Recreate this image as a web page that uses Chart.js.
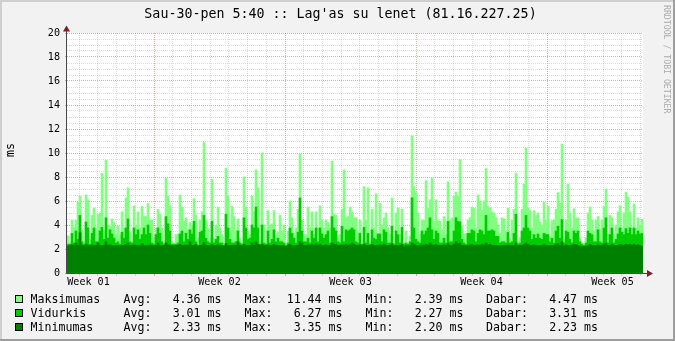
<!DOCTYPE html>
<html>
<head>
<meta charset="utf-8">
<title>Lag'as su lenet</title>
<script src="https://cdn.jsdelivr.net/npm/chart.js@4.4.1/dist/chart.umd.min.js"></script>
<style>
  html, body { margin: 0; padding: 0; background: #f2f2f2; }
  #wrap { width: 675px; height: 341px; }
</style>
</head>
<body>
<div id="wrap"><canvas id="lagChart" width="675" height="341"></canvas></div>
<script>
// ---- data (one value per 2 px column of the original graph) ----
const chartTitle = "Sau-30-pen 5:40 :: Lag'as su lenet (81.16.227.25)";
const unitLabel = 'ms';
const weekLabels = ['Week 01', 'Week 02', 'Week 03', 'Week 04', 'Week 05'];
const yTickValues = [0, 2, 4, 6, 8, 10, 12, 14, 16, 18, 20];

const seriesNames = ['Maksimumas', 'Vidurkis', 'Minimumas'];
const statAvg = [4.36, 3.01, 2.33];
const statMax = [11.44, 6.27, 3.35];
const statMin = [2.39, 2.27, 2.20];
const statNow = [4.47, 3.31, 2.23];

const maxValues = [
  3.1, 2.5, 4.4, 3.8, 4.4, 5.9, 6.4, 3.6, 2.6, 6.5, 6.1, 2.8, 4.8, 5.4, 3.7, 4.9, 5.0, 8.3, 3.6, 9.4, 4.0, 3.9, 4.5, 4.2,
  3.2, 3.9, 3.2, 5.1, 3.75, 6.25, 7.1, 3.4, 2.6, 5.6, 4.0, 5.1, 3.75, 5.55, 4.7, 4.7, 5.8, 4.4, 4.4, 2.9, 3.75, 5.3, 4.9, 3.75,
  2.5, 7.9, 6.4, 5.6, 2.6, 2.5, 3.2, 3.25, 6.5, 5.5, 4.3, 4.6, 3.6, 4.2, 4.0, 6.2, 4.8, 2.9, 4.4, 5.1, 10.9, 4.4, 3.75, 2.9,
  7.8, 2.9, 4.0, 5.5, 3.75, 3.2, 2.4, 8.75, 6.4, 3.75, 5.55, 4.7, 3.6, 4.5, 2.9, 2.5, 8.0, 5.5, 3.5, 3.2, 6.4, 5.1, 8.6, 7.1,
  2.6, 10.0, 4.0, 2.5, 5.2, 4.0, 4.1, 5.2, 3.25, 3.4, 4.8, 3.5, 4.0, 2.4, 3.5, 6.0, 4.6, 3.3, 3.75, 5.3, 9.9, 4.4, 3.2, 3.2,
  5.5, 3.75, 5.1, 3.2, 5.1, 3.75, 5.6, 4.4, 3.75, 4.4, 4.2, 3.75, 9.3, 4.9, 4.8, 3.1, 3.2, 5.3, 8.6, 4.6, 4.7, 5.5, 5.1, 4.6,
  4.6, 3.4, 4.4, 2.4, 7.2, 4.4, 7.1, 2.6, 5.3, 3.75, 6.6, 3.3, 5.8, 4.0, 4.6, 5.0, 3.75, 3.2, 6.25, 2.5, 5.0, 5.4, 3.2, 5.3,
  2.5, 3.5, 2.5, 3.05, 11.44, 7.2, 6.7, 5.0, 3.2, 4.4, 4.4, 7.7, 5.4, 6.1, 7.9, 4.3, 6.1, 4.4, 4.3, 3.6, 4.7, 3.2, 7.6, 4.4,
  4.6, 6.4, 6.75, 6.4, 9.45, 3.9, 3.25, 3.3, 4.4, 4.6, 5.5, 5.4, 3.75, 6.5, 6.0, 5.2, 6.0, 8.7, 5.55, 5.4, 5.1, 5.0, 4.6, 4.0,
  3.3, 4.6, 4.5, 3.5, 5.4, 2.9, 4.4, 5.3, 8.3, 2.6, 2.9, 5.3, 7.4, 10.4, 5.4, 5.2, 3.75, 5.2, 4.8, 5.0, 4.25, 4.0, 5.9, 4.4,
  5.55, 3.05, 4.35, 4.4, 5.3, 6.7, 5.8, 10.75, 2.8, 4.4, 7.4, 5.0, 3.75, 5.35, 4.6, 4.6, 2.9, 2.5, 2.4, 2.9, 5.0, 5.5, 4.4, 3.5,
  4.4, 4.7, 3.6, 4.4, 5.55, 7.0, 3.25, 4.8, 4.6, 3.2, 4.0, 5.1, 5.6, 3.75, 5.0, 6.75, 6.3, 5.1, 3.75, 5.75, 3.75, 4.6, 4.0, 4.47
];

const avgValues = [
  2.4, 2.4, 3.3, 2.5, 3.5, 2.8, 4.8, 2.6, 2.4, 4.25, 3.75, 2.4, 3.3, 3.75, 2.6, 2.6, 3.5, 3.8, 2.8, 4.6, 2.9, 3.6, 3.25, 2.9,
  2.5, 2.6, 2.4, 3.4, 2.9, 3.75, 4.5, 2.6, 2.5, 3.75, 3.2, 3.6, 2.8, 3.2, 3.75, 3.2, 4.0, 3.3, 2.5, 2.4, 3.2, 3.75, 3.3, 2.6,
  2.4, 4.7, 4.1, 3.5, 2.4, 2.4, 2.4, 2.5, 3.25, 3.5, 2.6, 3.3, 2.8, 3.6, 3.25, 4.3, 2.6, 2.3, 3.4, 3.5, 4.8, 2.9, 2.6, 2.5,
  4.3, 2.5, 2.8, 3.05, 2.5, 2.5, 2.3, 4.9, 3.75, 2.8, 2.5, 2.5, 2.6, 3.5, 2.5, 2.4, 4.6, 3.75, 2.8, 2.9, 4.0, 3.75, 5.5, 3.75,
  2.4, 4.0, 2.5, 2.4, 3.5, 2.5, 2.8, 3.6, 2.6, 2.9, 2.6, 2.6, 2.5, 2.3, 2.5, 3.75, 3.3, 2.9, 2.5, 3.4, 6.25, 3.5, 2.6, 2.6,
  2.9, 2.5, 3.5, 2.9, 3.75, 2.6, 3.75, 3.25, 2.9, 3.2, 3.5, 2.5, 4.7, 3.75, 3.5, 2.6, 2.5, 3.9, 2.6, 3.6, 3.5, 3.6, 3.75, 3.6,
  2.6, 2.5, 3.3, 2.4, 3.8, 2.5, 3.3, 2.4, 3.6, 2.9, 2.8, 3.25, 3.25, 2.6, 3.6, 3.4, 2.5, 2.5, 3.9, 2.4, 3.5, 3.2, 2.5, 3.8,
  2.4, 2.5, 2.4, 2.6, 6.27, 3.75, 2.8, 2.6, 2.5, 3.5, 3.2, 3.5, 3.75, 4.6, 3.6, 2.8, 3.5, 3.3, 2.5, 2.5, 2.9, 2.5, 4.3, 2.6,
  2.6, 3.5, 4.6, 4.3, 4.25, 2.8, 2.5, 2.4, 3.3, 3.3, 3.6, 3.5, 2.6, 3.3, 3.6, 3.5, 3.2, 4.8, 3.5, 3.5, 3.6, 3.5, 3.05, 3.05,
  2.5, 2.6, 2.6, 2.5, 3.4, 2.5, 2.6, 3.3, 4.9, 2.4, 2.5, 3.5, 3.75, 4.8, 3.75, 3.5, 2.8, 3.2, 2.9, 3.25, 2.9, 2.8, 3.3, 3.2,
  3.2, 2.6, 2.9, 2.5, 3.5, 3.9, 2.9, 4.45, 2.5, 3.5, 3.4, 2.8, 2.5, 3.5, 3.3, 3.5, 2.6, 2.4, 2.3, 2.5, 3.5, 3.3, 3.2, 2.6,
  2.6, 3.6, 2.6, 2.5, 3.75, 4.6, 2.5, 3.2, 3.75, 2.5, 2.8, 3.25, 3.75, 3.4, 3.2, 3.7, 3.3, 3.75, 3.2, 3.75, 3.2, 3.5, 3.25, 3.31
];

const minValues = [
  2.25, 2.3, 2.35, 2.3, 2.5, 2.3, 3.35, 2.3, 2.25, 2.4, 2.3, 2.3, 2.35, 2.3, 2.3, 2.5, 2.3, 2.3, 2.3, 2.6, 2.3, 2.35, 2.3, 2.3,
  2.3, 2.3, 2.25, 2.3, 2.3, 2.4, 2.5, 2.3, 2.3, 2.35, 2.3, 2.3, 2.3, 2.45, 2.3, 2.3, 2.3, 2.35, 2.3, 2.25, 2.3, 2.5, 2.3, 2.3,
  2.3, 2.5, 2.35, 2.3, 2.3, 2.25, 2.3, 2.3, 2.4, 2.3, 2.3, 2.35, 2.3, 2.6, 2.3, 2.3, 2.4, 2.25, 2.3, 2.3, 2.55, 2.3, 2.3, 2.3,
  2.4, 2.3, 2.3, 2.35, 2.3, 2.3, 2.25, 2.45, 2.3, 2.3, 2.3, 2.3, 2.3, 2.6, 2.3, 2.25, 2.4, 2.3, 2.3, 2.3, 2.5, 2.3, 2.6, 2.4,
  2.3, 2.4, 2.3, 2.3, 2.35, 2.3, 2.3, 2.4, 2.3, 2.3, 2.3, 2.3, 2.3, 2.2, 2.3, 2.4, 2.3, 2.3, 2.3, 2.3, 2.6, 2.5, 2.3, 2.3,
  2.35, 2.3, 2.4, 2.3, 2.45, 2.3, 2.4, 2.3, 2.3, 2.35, 2.3, 2.3, 2.5, 2.4, 2.4, 2.3, 2.3, 2.35, 2.3, 2.4, 2.3, 2.4, 2.5, 2.4,
  2.3, 2.3, 2.35, 2.25, 2.4, 2.3, 2.3, 2.3, 2.4, 2.3, 2.3, 2.3, 2.35, 2.3, 2.4, 2.3, 2.3, 2.3, 2.45, 2.25, 2.3, 2.3, 2.3, 2.4,
  2.2, 2.3, 2.25, 2.3, 2.5, 2.4, 2.3, 2.3, 2.3, 2.35, 2.3, 2.4, 2.3, 2.5, 2.35, 2.3, 2.4, 2.3, 2.3, 2.3, 2.35, 2.3, 2.45, 2.3,
  2.3, 2.4, 2.6, 2.45, 2.5, 2.3, 2.3, 2.25, 2.3, 2.35, 2.4, 2.3, 2.3, 2.35, 2.3, 2.4, 2.3, 2.5, 2.3, 2.4, 2.3, 2.3, 2.3, 2.3,
  2.25, 2.3, 2.3, 2.3, 2.35, 2.3, 2.3, 2.3, 2.5, 2.25, 2.3, 2.3, 2.4, 2.5, 2.4, 2.3, 2.3, 2.35, 2.3, 2.3, 2.3, 2.3, 2.4, 2.3,
  2.3, 2.3, 2.3, 2.3, 2.4, 2.45, 2.3, 2.6, 2.25, 2.35, 2.3, 2.3, 2.3, 2.4, 2.35, 2.3, 2.25, 2.2, 2.2, 2.25, 2.3, 2.4, 2.3, 2.3,
  2.3, 2.35, 2.3, 2.3, 2.4, 2.5, 2.3, 2.3, 2.4, 2.3, 2.3, 2.3, 2.4, 2.35, 2.3, 2.4, 2.35, 2.4, 2.3, 2.4, 2.3, 2.35, 2.3, 2.23
];

// ---- look ----
const FONT = "'DejaVu Sans Mono', monospace";
const seriesColors = ['#80ff80', '#00cc00', '#008000'];
const GRID = 'rgba(150,150,150,0.34)';
const MGRID = 'rgba(222,79,79,0.5)';
const NONE = 'rgba(0,0,0,0)';
const ARROW = '#801f1f';
const AXIS = '#4a4a4a';

// x axis runs in "columns": one week = 65.5 columns, first week line at column 43.5
const COLS_PER_DAY = 131 / 7 / 2;
const FIRST_WEEK_LINE = 43.5;

const columnLabels = maxValues.map((v, i) => i);

function buildXTicks(scale) {
  const ticks = [];
  for (let k = -5; k < 40; k++) {
    const v = FIRST_WEEK_LINE + k * COLS_PER_DAY;
    if (v < 0 || v > columnLabels.length) continue;
    ticks.push({ value: v, kind: (k % 7 === 0) ? 'week' : 'day', text: '' });
  }
  weekLabels.forEach((w, i) => {
    const v = FIRST_WEEK_LINE + (i - 1) * 7 * COLS_PER_DAY + 3.5 * COLS_PER_DAY;
    ticks.push({ value: v, kind: 'label', text: w });
  });
  ticks.sort((a, b) => a.value - b.value);
  scale.ticks = ticks;
}

function xGridColor(ctx) {
  const t = ctx.tick;
  if (!t || t.kind === 'label') return NONE;
  return t.kind === 'week' ? MGRID : GRID;
}

// background, frame, axes with arrows, title and the legend table
const rrdLook = {
  id: 'rrdLook',
  beforeDraw(chart) {
    const { ctx, chartArea: a, width, height } = chart;
    ctx.save();
    ctx.fillStyle = '#f2f2f2';
    ctx.fillRect(0, 0, width, height);
    ctx.fillStyle = '#cfcfcf';
    ctx.fillRect(0, 0, width, 2);
    ctx.fillRect(0, 0, 2, height);
    ctx.fillStyle = '#9e9e9e';
    ctx.fillRect(0, height - 2, width, 2);
    ctx.fillRect(width - 2, 0, 2, height);
    ctx.fillStyle = '#ffffff';
    ctx.fillRect(a.left, a.top, a.right - a.left, a.bottom - a.top);
    ctx.restore();
  },
  afterDraw(chart) {
    const { ctx, chartArea: a } = chart;
    ctx.save();

    // axes
    ctx.strokeStyle = AXIS;
    ctx.lineWidth = 1;
    ctx.beginPath();
    ctx.moveTo(a.left - 0.5, a.bottom + 0.5);
    ctx.lineTo(a.left - 0.5, a.top - 5);
    ctx.moveTo(a.left - 1, a.bottom + 0.5);
    ctx.lineTo(a.right + 4, a.bottom + 0.5);
    ctx.stroke();

    // arrow heads
    ctx.fillStyle = ARROW;
    ctx.beginPath();
    ctx.moveTo(a.left - 4, a.top - 1.5);
    ctx.lineTo(a.left + 3, a.top - 1.5);
    ctx.lineTo(a.left - 0.5, a.top - 7.5);
    ctx.closePath();
    ctx.fill();
    ctx.beginPath();
    ctx.moveTo(a.right + 4, a.bottom - 3);
    ctx.lineTo(a.right + 4, a.bottom + 4);
    ctx.lineTo(a.right + 10, a.bottom + 0.5);
    ctx.closePath();
    ctx.fill();

    // title
    ctx.fillStyle = '#000';
    ctx.textBaseline = 'alphabetic';
    ctx.textAlign = 'center';
    ctx.font = '13.3px ' + FONT;
    ctx.fillText(chartTitle, 340.5, 18);

    // unit label
    ctx.font = '11.6px ' + FONT;
    ctx.save();
    ctx.translate(14, 150);
    ctx.rotate(-Math.PI / 2);
    ctx.fillText(unitLabel, 0, 0);
    ctx.restore();

    // watermark
    ctx.save();
    ctx.fillStyle = '#ababab';
    ctx.font = '8.2px ' + FONT;
    ctx.textAlign = 'left';
    ctx.translate(664, 5);
    ctx.rotate(Math.PI / 2);
    ctx.fillText('RRDTOOL / TOBI OETIKER', 0, 0);
    ctx.restore();

    // legend table
    ctx.font = '11.6px ' + FONT;
    seriesNames.forEach((name, i) => {
      const base = 303 + i * 14;
      ctx.fillStyle = seriesColors[i];
      ctx.fillRect(15, base - 8, 8, 8);
      ctx.strokeStyle = '#000';
      ctx.strokeRect(15.5, base - 7.5, 7, 7);
      ctx.fillStyle = '#000';
      ctx.textAlign = 'left';
      ctx.fillText(name, 30.5, base);
      ctx.fillText('Avg:', 123.5, base);
      ctx.fillText('Max:', 244.5, base);
      ctx.fillText('Min:', 365.5, base);
      ctx.fillText('Dabar:', 486, base);
      ctx.textAlign = 'right';
      ctx.fillText(statAvg[i].toFixed(2) + ' ms', 221.5, base);
      ctx.fillText(statMax[i].toFixed(2) + ' ms', 342.5, base);
      ctx.fillText(statMin[i].toFixed(2) + ' ms', 463.5, base);
      ctx.fillText(statNow[i].toFixed(2) + ' ms', 598, base);
    });
    ctx.restore();
  }
};

const barStyle = { barPercentage: 1, categoryPercentage: 1, borderWidth: 0, grouped: false };

new Chart(document.getElementById('lagChart'), {
  type: 'bar',
  data: {
    labels: columnLabels,
    datasets: [
      { label: seriesNames[2], data: minValues, backgroundColor: seriesColors[2], order: 1, ...barStyle },
      { label: seriesNames[1], data: avgValues, backgroundColor: seriesColors[1], order: 2, ...barStyle },
      { label: seriesNames[0], data: maxValues, backgroundColor: seriesColors[0], order: 3, ...barStyle }
    ]
  },
  options: {
    responsive: false,
    maintainAspectRatio: false,
    animation: false,
    layout: { padding: { left: 0, top: 33, right: 32, bottom: 48 } },
    plugins: { legend: { display: false }, title: { display: false }, tooltip: { enabled: false } },
    scales: {
      x: { display: false },
      weeks: {
        type: 'linear',
        position: 'bottom',
        z: 1,   // rrdtool paints the grid over the graph
        min: 0,
        max: columnLabels.length,
        offset: false,
        afterBuildTicks: buildXTicks,
        afterFit: (s) => { s.height = 20; },
        border: { display: false, dash: [1, 1] },
        grid: { offset: false, color: xGridColor, tickColor: xGridColor, tickLength: 3, tickBorderDash: [] },
        ticks: {
          autoSkip: false,
          maxRotation: 0,
          padding: 0,
          color: '#000',
          font: { family: FONT, size: 10.1 },
          callback: (v, i, ticks) => ticks[i].text
        }
      },
      y: {
        z: 1,
        min: 0,
        max: 20,
        afterBuildTicks: (s) => {
          const t = [];
          for (let k = 0; k <= 40; k++) t.push({ value: k * 0.5 });
          s.ticks = t;
        },
        afterFit: (s) => { s.width = 67; },
        border: { display: false, dash: [1, 1] },
        grid: {
          color: (c) => (c.tick && c.tick.value % 2 === 0) ? MGRID : GRID,
          tickColor: (c) => (c.tick && c.tick.value % 2 === 0) ? MGRID : NONE,
          tickLength: 2,
          tickBorderDash: []
        },
        ticks: {
          autoSkip: false,
          padding: 5,
          color: '#000',
          font: { family: FONT, size: 10.1 },
          callback: (v) => yTickValues.includes(v) ? String(v) : ''
        }
      }
    }
  },
  plugins: [rrdLook]
});
</script>
</body>
</html>
